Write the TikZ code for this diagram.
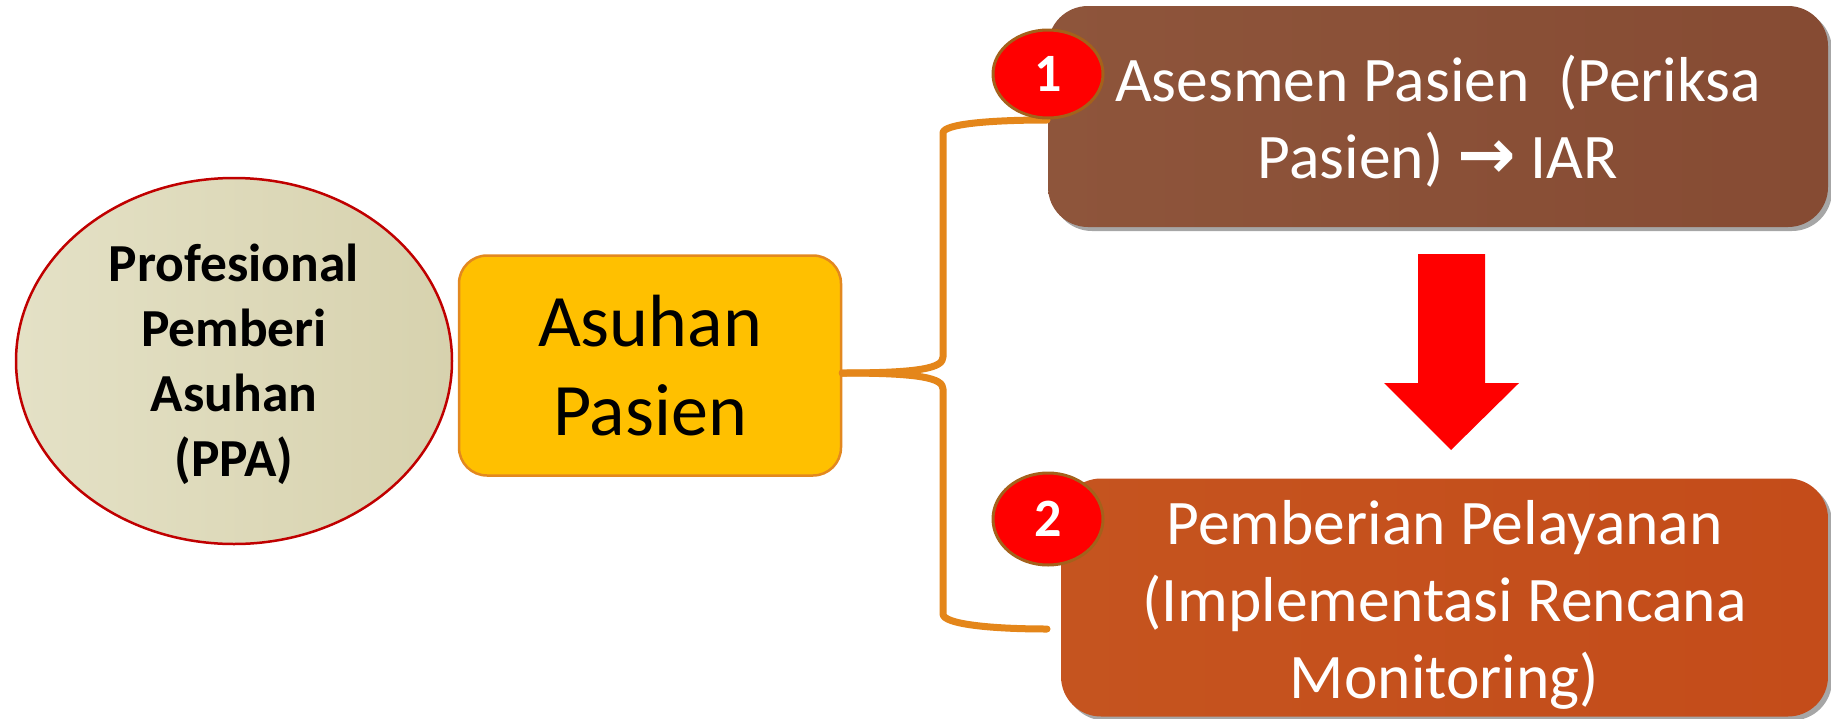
\documentclass[tikz,border=0pt]{standalone}
\usepackage{fontspec}
\setmainfont{Carlito}
\newfontfamily\djv{DejaVu Sans}
\usetikzlibrary{shapes.geometric,shadows}
\definecolor{ppafillL}{HTML}{E4E1C6}
\definecolor{ppafillR}{HTML}{D7D2AE}
\definecolor{ppaborder}{HTML}{C00000}
\definecolor{asuhanfill}{HTML}{FFC000}
\definecolor{asuhanborder}{HTML}{E3881F}
\definecolor{linkorange}{HTML}{E4861A}
\definecolor{brownL}{HTML}{8E553B}
\definecolor{brownR}{HTML}{864B33}
\definecolor{rustL}{HTML}{C5541F}
\definecolor{rustR}{HTML}{C44C1A}
\definecolor{badgeborder}{HTML}{A4611B}
\definecolor{arrowred}{HTML}{FF0000}
\tikzset{
  ppa/.style={ellipse, draw=ppaborder, line width=2.5pt, left color=ppafillL, right color=ppafillR,
    minimum width=436pt, minimum height=366pt, inner sep=0pt},
  ppatext/.style={align=center, inner sep=0pt, font=\fontsize{53.5}{65}\selectfont\bfseries},
  asuhanbox/.style={rectangle, rounded corners=28pt, draw=asuhanborder, line width=2.5pt, fill=asuhanfill,
    minimum width=382pt, minimum height=220pt, inner sep=0pt, align=center,
    font=\fontsize{74}{89}\selectfont},
  stagebox/.style={rectangle, rounded corners=40pt, inner sep=0pt,
    drop shadow={shadow xshift=4pt, shadow yshift=-4pt, fill=black, opacity=0.35}},
  stagetext/.style={align=center, inner sep=0pt, text=white, font=\fontsize{63.5}{77}\selectfont},
  badge/.style={ellipse, draw=badgeborder, line width=3pt, fill=arrowred, text=white,
    inner sep=0pt, font=\fontsize{54}{60}\selectfont\bfseries},
  link/.style={draw=linkorange, line width=7pt, line cap=round, line join=round},
}
\begin{document}
\begin{tikzpicture}[x=1pt,y=-1pt]
\useasboundingbox (0,0) rectangle (1831,718);
% left side
\node[ppa] (ppa) at (234,361) {};
\node[ppatext] (ppatxt) at (234,364) {Profesional\\Pemberi\\Asuhan\\(PPA)};
\node[asuhanbox] (asuhan) at (650,365.5) {Asuhan\\Pasien};
% stage boxes
\node[stagebox, left color=brownL, right color=brownR, minimum width=780pt, minimum height=221pt]
  (asesmen) at (1438,116.5) {};
\node[stagetext] (asesmentxt) at (1438,121) {Asesmen Pasien~~(Periksa\\Pasien) {\djv\bfseries\fontsize{70}{77}\selectfont →} IAR};
\node[stagebox, left color=rustL, right color=rustR, minimum width=767pt, minimum height=238pt]
  (layanan) at (1444.5,597.5) {};
\node[stagetext] (layanantxt) at (1444.5,605) {Pemberian Pelayanan\\(Implementasi Rencana\\Monitoring)};
% connectors
\coordinate (j) at ([yshift=-7.5pt]asuhan.east);
\coordinate (e1) at (1047,120);
\coordinate (e2) at (1047,629);
\draw[link] (j) .. controls (920,373) and (943,368) .. (943,357) -- (943,133)
  .. controls (943,124) and (990,120) .. (e1);
\draw[link] (j) .. controls (920,373) and (943,378) .. (943,389) -- (943,614)
  .. controls (943,624) and (990,629) .. (e2);
% badges
\node[badge, minimum width=110pt, minimum height=88pt] (b1) at (1048,74) {1};
\node[badge, minimum width=110pt, minimum height=92pt] (b2) at (1048,519) {2};
% red arrow between the stages
\fill[arrowred] (1418,254) -- (1485,254) -- (1485,383) -- (1519,383) -- (1451,450)
  -- (1384,383) -- (1418,383) -- cycle;
\end{tikzpicture}
\end{document}
